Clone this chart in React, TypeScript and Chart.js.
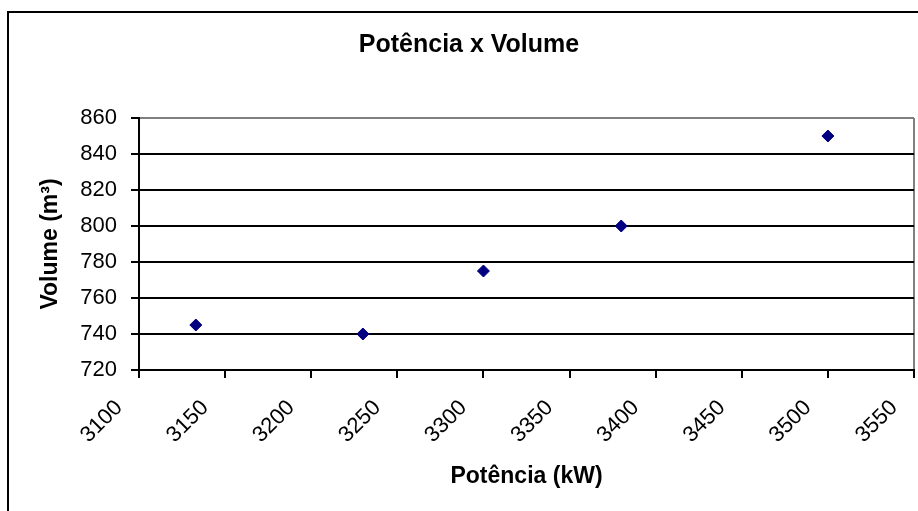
import { useEffect, useRef } from "react";
import { Chart, registerables } from "chart.js";

Chart.register(...registerables);

// Measured operating points: power (kW) against volume (m³)
const powerKW = [3133, 3230, 3300, 3380, 3500];
const volumeM3 = [745, 740, 775, 800, 850];

// Axis ranges and tick spacing
const xMin = 3100;
const xMax = 3550;
const xStep = 50;
const yMin = 720;
const yMax = 860;
const yStep = 20;

const chartTitle = "Potência x Volume";
const xAxisTitle = "Potência (kW)";
const yAxisTitle = "Volume (m³)";

const FONT = "'Liberation Sans', Arial, Helvetica, sans-serif";
const WIDTH = 918;
const HEIGHT = 511;

// White page with the black chart frame behind everything
const framePlugin = {
  id: "frame",
  beforeDraw(chart: Chart) {
    const { ctx, width, height } = chart;
    ctx.save();
    ctx.fillStyle = "#ffffff";
    ctx.fillRect(0, 0, width, height);
    ctx.strokeStyle = "#000000";
    ctx.lineWidth = 2;
    ctx.strokeRect(8, 12, width + 40, height + 40);
    ctx.restore();
  },
};

export default function App() {
  const canvasRef = useRef<HTMLCanvasElement | null>(null);

  useEffect(() => {
    const canvas = canvasRef.current;
    if (!canvas) return;

    const points = powerKW.map((x, i) => ({ x, y: volumeM3[i] }));

    const chart = new Chart(canvas, {
      type: "scatter",
      data: {
        datasets: [
          {
            label: "Volume",
            data: points,
            pointStyle: "rectRot",
            pointRadius: 6,
            pointHoverRadius: 6,
            pointBackgroundColor: "#000080",
            pointBorderColor: "#000080",
            pointBorderWidth: 1,
            showLine: false,
            clip: false,
          },
        ],
      },
      options: {
        responsive: false,
        animation: false,
        events: [],
        layout: {
          autoPadding: false,
          padding: { left: 24, right: 4, top: 0, bottom: 0 },
        },
        plugins: {
          legend: { display: false },
          tooltip: { enabled: false },
          title: {
            display: true,
            text: chartTitle,
            color: "#000000",
            font: { family: FONT, size: 25, weight: "bold" },
            padding: { top: 30, bottom: 58 },
          },
        },
        scales: {
          x: {
            type: "linear",
            position: "bottom",
            min: xMin,
            max: xMax,
            ticks: {
              stepSize: xStep,
              autoSkip: false,
              color: "#000000",
              font: { family: FONT, size: 22 },
              minRotation: 45,
              maxRotation: 45,
              padding: 17,
              labelOffset: -20,
              callback: (v: number | string) => String(v),
            },
            grid: {
              drawOnChartArea: true,
              color: (c: any) =>
                c.tick && c.tick.value === xMax ? "#808080" : "rgba(0,0,0,0)",
              tickColor: "#000000",
              tickLength: 8,
              lineWidth: 2,
            },
            border: { display: true, color: "#000000", width: 2 },
            title: {
              display: true,
              text: xAxisTitle,
              color: "#000000",
              font: { family: FONT, size: 23, weight: "bold" },
              padding: { top: 0, bottom: 21 },
            },
            afterFit: (s: any) => {
              s.height = 141;
              s.paddingLeft = 0;
              s.paddingRight = 0;
            },
          },
          y: {
            type: "linear",
            position: "left",
            min: yMin,
            max: yMax,
            ticks: {
              stepSize: yStep,
              color: "#000000",
              font: { family: FONT, size: 22 },
              padding: 14,
              callback: (v: number | string) => String(v),
            },
            grid: {
              color: (c: any) =>
                c.tick && c.tick.value === yMax ? "#808080" : "#000000",
              tickColor: "#000000",
              tickLength: 8,
              lineWidth: 2,
            },
            border: { display: true, color: "#000000", width: 2 },
            title: {
              display: true,
              text: yAxisTitle,
              color: "#000000",
              font: { family: FONT, size: 23, weight: "bold" },
              padding: { top: 13, bottom: 0 },
            },
            afterFit: (s: any) => {
              s.width = 115;
              s.paddingTop = 0;
              s.paddingBottom = 0;
            },
          },
        },
      },
      plugins: [framePlugin],
    });

    return () => chart.destroy();
  }, []);

  return (
    <div
      style={{
        position: "fixed",
        left: 0,
        top: 0,
        width: WIDTH,
        height: HEIGHT,
        background: "#ffffff",
      }}
    >
      <canvas ref={canvasRef} width={WIDTH} height={HEIGHT} />
    </div>
  );
}
